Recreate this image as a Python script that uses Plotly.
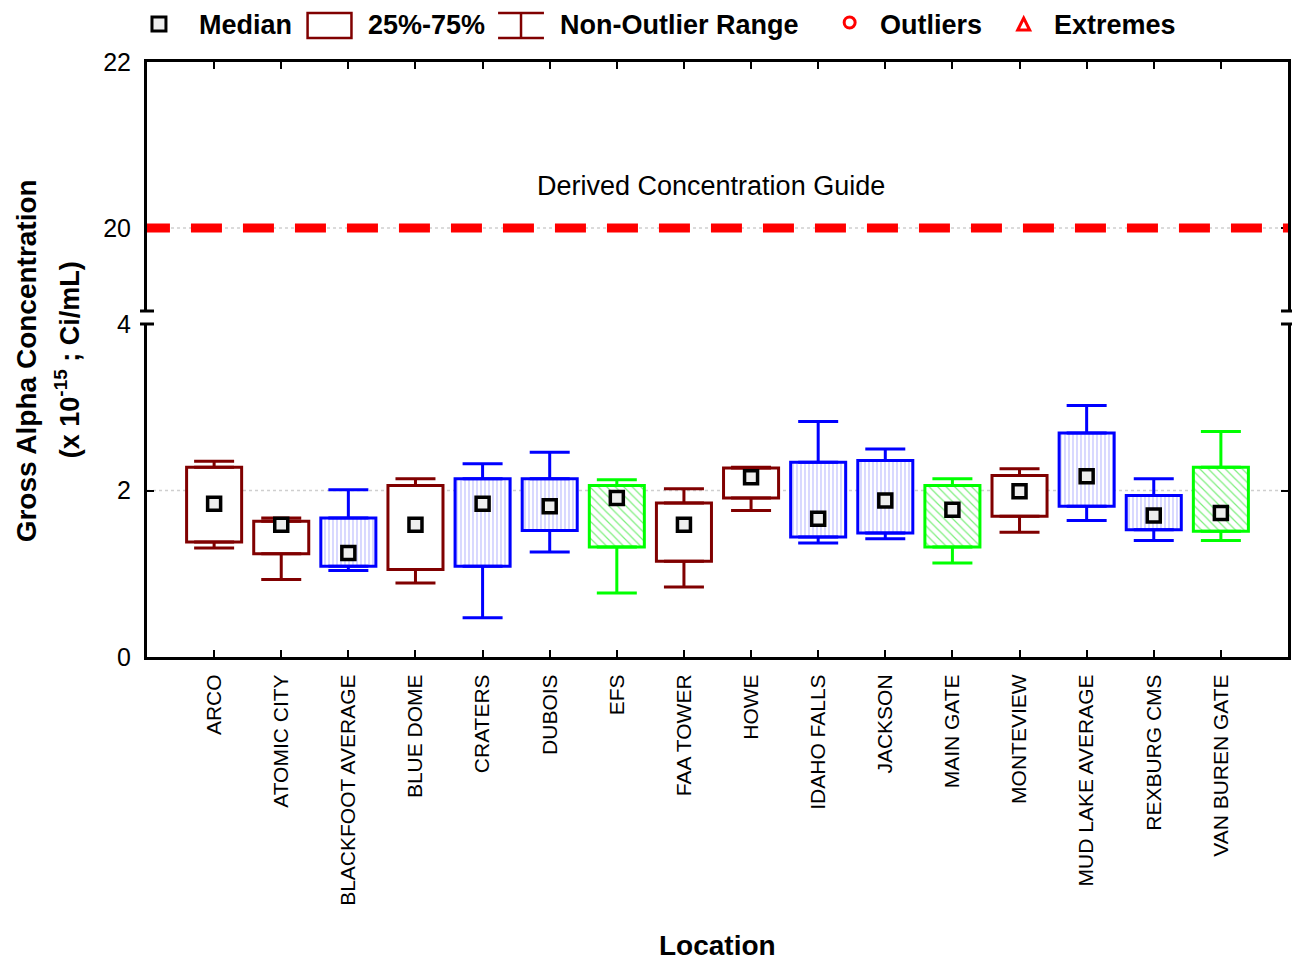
import plotly.graph_objects as go

# ---- data -------------------------------------------------------------
locations = ["ARCO", "ATOMIC CITY", "BLACKFOOT AVERAGE", "BLUE DOME", "CRATERS",
             "DUBOIS", "EFS", "FAA TOWER", "HOWE", "IDAHO FALLS", "JACKSON",
             "MAIN GATE", "MONTEVIEW", "MUD LAKE AVERAGE", "REXBURG CMS",
             "VAN BUREN GATE"]
station_group = ["boundary", "boundary", "distant", "boundary", "distant",
                 "distant", "onsite", "boundary", "boundary", "distant", "distant",
                 "onsite", "boundary", "distant", "distant", "onsite"]
median = [1.84, 1.59, 1.25, 1.59, 1.84, 1.81, 1.91, 1.59, 2.16, 1.66, 1.88,
          1.77, 1.99, 2.17, 1.70, 1.73]
q1 = [1.38, 1.24, 1.09, 1.05, 1.09, 1.52, 1.32, 1.15, 1.91, 1.44, 1.49,
      1.32, 1.69, 1.81, 1.53, 1.51]
q3 = [2.28, 1.63, 1.67, 2.06, 2.14, 2.14, 2.06, 1.85, 2.27, 2.34, 2.36,
      2.06, 2.18, 2.69, 1.94, 2.28]
range_low = [1.31, 0.93, 1.04, 0.89, 0.47, 1.26, 0.77, 0.84, 1.76, 1.37, 1.42,
             1.13, 1.50, 1.64, 1.40, 1.40]
range_high = [2.35, 1.67, 2.01, 2.14, 2.32, 2.46, 2.13, 2.02, 2.28, 2.83, 2.50,
              2.14, 2.26, 3.02, 2.14, 2.71]
dcg_value = 20
lower_ticks = [0, 2, 4]
upper_ticks = [20, 22]

# ---- styling ----------------------------------------------------------
group_style = {
    "boundary": dict(color="#800000", pattern=dict(shape="")),
    "distant": dict(color="#0000FF",
                    pattern=dict(shape="|", fgcolor="#7f7fff", bgcolor="white",
                                 size=4, solidity=0.3)),
    "onsite": dict(color="#00FF00",
                   pattern=dict(shape="\\", fgcolor="#00dd00", bgcolor="white",
                                size=6, solidity=0.2)),
}
FONT = "Liberation Sans, Arial, sans-serif"
W, H = 1292, 961
PL, PR, PT, PB = 147, 1291, 62, 657           # plot area in pixels
LOW_TOP_PX, UP_BOT_PX = 324, 311               # broken-axis gap


def fx(px):
    return (px - PL) / (PR - PL)


def fy(py):
    return (PB - py) / (PB - PT)


fig = go.Figure()
x_idx = list(range(len(locations)))

for grp, st in group_style.items():
    ids = [i for i in x_idx if station_group[i] == grp]
    c = st["color"]
    # interquartile boxes
    fig.add_trace(go.Bar(
        x=ids, y=[q3[i] - q1[i] for i in ids], base=[q1[i] for i in ids],
        width=0.82, xaxis="x", yaxis="y", showlegend=False,
        marker=dict(color="white", line=dict(color=c, width=3),
                    pattern=st["pattern"])))
    # upper whisker (q3 -> max)
    fig.add_trace(go.Scatter(
        x=ids, y=[q3[i] for i in ids], mode="markers",
        marker=dict(color="rgba(0,0,0,0)", size=1), showlegend=False,
        xaxis="x", yaxis="y",
        error_y=dict(type="data", symmetric=False,
                     array=[range_high[i] - q3[i] for i in ids],
                     arrayminus=[0] * len(ids),
                     color=c, thickness=3, width=20)))
    # lower whisker (min -> q1)
    fig.add_trace(go.Scatter(
        x=ids, y=[q1[i] for i in ids], mode="markers",
        marker=dict(color="rgba(0,0,0,0)", size=1), showlegend=False,
        xaxis="x", yaxis="y",
        error_y=dict(type="data", symmetric=False,
                     array=[0] * len(ids),
                     arrayminus=[q1[i] - range_low[i] for i in ids],
                     color=c, thickness=3, width=20)))

# medians
fig.add_trace(go.Scatter(
    x=x_idx, y=median, mode="markers", showlegend=False, xaxis="x", yaxis="y",
    marker=dict(symbol="square", size=13, color="#eeeeee",
                line=dict(color="black", width=3.5))))

low_dom = [0, fy(LOW_TOP_PX)]
up_dom = [fy(UP_BOT_PX), 1]

axis_common = dict(showline=True, linecolor="black", linewidth=3,
                   ticks="inside", ticklen=7, tickwidth=2, tickcolor="black",
                   showgrid=False, zeroline=False)

fig.update_layout(
    width=W, height=H,
    margin=dict(l=PL, r=W - PR, t=PT, b=H - PB),
    paper_bgcolor="white", plot_bgcolor="white",
    barmode="overlay",
    font=dict(family=FONT, color="black"),
    xaxis=dict(domain=[0, 1], range=[-1, len(locations)], anchor="y",
               tickvals=x_idx, ticktext=locations, tickangle=-90,
               tickfont=dict(size=21, family=FONT), ticklabelstandoff=6,
               **axis_common),
    xaxis2=dict(matches="x", anchor="y2", side="top", showticklabels=False,
                tickvals=x_idx, **axis_common),
    yaxis=dict(domain=low_dom, range=[0, 4], anchor="x", tickvals=lower_ticks,
               mirror="ticks", tickfont=dict(size=25, family=FONT),
               ticklabelstandoff=8, **axis_common),
    yaxis2=dict(domain=up_dom, range=[19, 22], anchor="x2", tickvals=upper_ticks,
                mirror="ticks", tickfont=dict(size=25, family=FONT),
                ticklabelstandoff=8, **axis_common),
)

shapes = []
# dotted reference grid lines
shapes.append(dict(type="line", xref="x", yref="y", x0=-1, x1=len(locations),
                   y0=2, y1=2, layer="below",
                   line=dict(color="#cfcfcf", width=1.5, dash="dot")))
shapes.append(dict(type="line", xref="x2", yref="y2", x0=-1, x1=len(locations),
                   y0=dcg_value, y1=dcg_value, layer="below",
                   line=dict(color="#cfcfcf", width=1.5, dash="dot")))
# Derived Concentration Guide line
shapes.append(dict(type="line", xref="x2", yref="y2", x0=-1.12, x1=len(locations),
                   y0=dcg_value, y1=dcg_value,
                   line=dict(color="#FF0000", width=9, dash="31px,21px")))
# axis break marks
for py in (UP_BOT_PX, LOW_TOP_PX):
    for xa, xb in ((140, 154), (1284, 1298)):
        shapes.append(dict(type="line", xref="paper", yref="paper",
                           x0=fx(xa), x1=fx(xb), y0=fy(py), y1=fy(py),
                           line=dict(color="black", width=3)))

# legend glyphs
shapes.append(dict(type="rect", xref="paper", yref="paper",
                   x0=fx(152), x1=fx(166), y0=fy(17), y1=fy(31),
                   fillcolor="#eeeeee", line=dict(color="black", width=3)))
shapes.append(dict(type="rect", xref="paper", yref="paper",
                   x0=fx(308), x1=fx(352), y0=fy(13), y1=fy(38),
                   fillcolor="white", line=dict(color="#800000", width=2.5)))
for py in (13, 38):
    shapes.append(dict(type="line", xref="paper", yref="paper",
                       x0=fx(499), x1=fx(545), y0=fy(py), y1=fy(py),
                       line=dict(color="#800000", width=2.5)))
shapes.append(dict(type="line", xref="paper", yref="paper",
                   x0=fx(522), x1=fx(522), y0=fy(13), y1=fy(38),
                   line=dict(color="#800000", width=2.5)))
shapes.append(dict(type="circle", xref="paper", yref="paper",
                   x0=fx(846), x1=fx(857), y0=fy(17), y1=fy(28),
                   line=dict(color="#FF0000", width=3)))
tx = [fx(1020), fx(1032), fx(1026)]
ty = [fy(30), fy(30), fy(18)]
shapes.append(dict(type="path", xref="paper", yref="paper",
                   path=f"M {tx[0]} {ty[0]} L {tx[1]} {ty[1]} L {tx[2]} {ty[2]} Z",
                   line=dict(color="#FF0000", width=3)))
fig.update_layout(shapes=shapes)

annotations = []
legend_items = [("Median", 197), ("25%-75%", 367), ("Non-Outlier Range", 559),
                ("Outliers", 880), ("Extremes", 1054)]
for label, px in legend_items:
    annotations.append(dict(text=f"<b>{label}</b>", xref="paper", yref="paper",
                            x=fx(px), y=fy(25), xanchor="left",
                            yanchor="middle", showarrow=False,
                            font=dict(size=27, family=FONT, color="black")))
annotations.append(dict(text="Derived Concentration Guide", xref="paper",
                        yref="paper", x=fx(712), y=fy(186), xanchor="center",
                        yanchor="middle", showarrow=False,
                        font=dict(size=27, family=FONT, color="black")))
annotations.append(dict(text="<b>Location</b>", xref="paper", yref="paper",
                        x=fx(719), y=fy(945), xanchor="center", yanchor="middle",
                        showarrow=False, font=dict(size=28, family=FONT)))
annotations.append(dict(text="<b>Gross Alpha Concentration</b>", xref="paper",
                        yref="paper", x=fx(26), y=fy(361), xanchor="center",
                        yanchor="middle", textangle=-90, showarrow=False,
                        font=dict(size=28, family=FONT)))
annotations.append(dict(text="<b>(x 10<sup>-15</sup> ; Ci/mL)</b>", xref="paper",
                        yref="paper", x=fx(67), y=fy(360), xanchor="center",
                        yanchor="middle", textangle=-90, showarrow=False,
                        font=dict(size=27, family=FONT)))
fig.update_layout(annotations=annotations)

fig.write_html("out.html")
